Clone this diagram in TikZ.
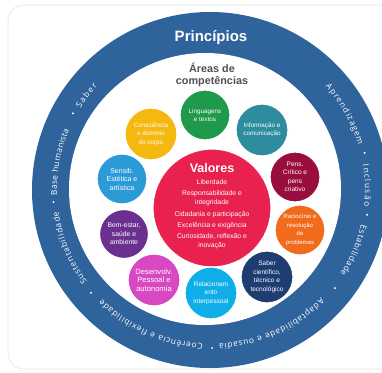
\documentclass[tikz,border=0pt]{standalone}
\usepackage{fontspec}
\setmainfont{Liberation Sans}
\newfontfamily\ringfont{Open Sans}
\usetikzlibrary{decorations.text}
\definecolor{ringblue}{HTML}{2F639B}
\definecolor{areagray}{HTML}{505050}
\definecolor{cval}{HTML}{E8214F}
\definecolor{cling}{HTML}{1F9A4A}
\definecolor{cconsc}{HTML}{F5B80F}
\definecolor{cinfo}{HTML}{2D8C9E}
\definecolor{csens}{HTML}{2B9BD8}
\definecolor{cpens}{HTML}{9A0E3F}
\definecolor{cracio}{HTML}{F26B1D}
\definecolor{cbem}{HTML}{6B2F90}
\definecolor{cdesenv}{HTML}{D848C2}
\definecolor{crelac}{HTML}{0FAEE8}
\definecolor{csaber}{HTML}{1E3E72}
\tikzset{
  comp/.style={circle, draw=white, line width=1.2pt, minimum size=52pt, inner sep=0pt,
    align=center, text=white},
  fs/.style={font=\fontsize{#1}{8.5}\selectfont},
  ringtext/.style={decorate, decoration={text along path,
    text={|\ringfont\fontsize{8.3}{10}\selectfont\color{white}|#1},
    text align=fit to path}},
  ringdot/.style={white}
}
\begin{document}
\begin{tikzpicture}[x=1pt,y=1pt]
\useasboundingbox (0,0) rectangle (382,-372);
\fill[white] (0,0) rectangle (382,-372);
\draw[black!10, line width=0.6pt, rounded corners=16pt] (8,-5) rectangle (402,-369);
% ring
\coordinate (rc) at (211,-190);
\fill[ringblue] (210,-190) circle[radius=178];
\fill[white] (205,-189) circle[radius=136];
% titles
\node[font=\bfseries\fontsize{15}{18}\selectfont, text=white] (princ) at (211,-38) {Princípios};
\node[font=\bfseries\fontsize{10.8}{12}\selectfont, text=areagray, align=center] (areas) at (212,-75) {Áreas de\\competências};
% ring text
\path[ringtext={Saber}] (rc) ++(148:154) arc[start angle=148, end angle=137.5, radius=154];
\path[ringtext={Base humanista}] (rc) ++(182:154) arc[start angle=182, end angle=157, radius=154];
\path[ringtext={Sustentabilidade}] (rc) ++(216.5:154) arc[start angle=216.5, end angle=188, radius=154];
\path[ringtext={Coerência e flexibilidade}] (rc) ++(267:154) arc[start angle=267, end angle=225, radius=154];
\path[ringtext={Adaptabilidade e ousadia}] (rc) ++(315.5:154) arc[start angle=315.5, end angle=273, radius=154];
\path[ringtext={Estabilidade}] (rc) ++(347:154) arc[start angle=347, end angle=327, radius=154];
\path[ringtext={Inclusão}] (rc) ++(9.5:154) arc[start angle=9.5, end angle=-6, radius=154];
\path[ringtext={Aprendizagem}] (rc) ++(42:154) arc[start angle=42, end angle=17, radius=154];
\foreach \a in {151,184.4,220.6,270.4,321.6,351,13.6}
  \fill[ringdot] (rc) ++(\a:158) circle[radius=1.1];
% valores
\node[circle, fill=cval, draw=white, line width=1.2pt, minimum size=118pt, inner sep=0pt] (val) at (212,-208) {};
\node[font=\bfseries\fontsize{12.5}{14}\selectfont, text=white] (valt) at (212,-168) {Valores};
\node[font=\fontsize{6.8}{9}\selectfont, text=white, align=center] (vall) at (212,-214.5)
  {Liberdade\\[2.3pt]Responsabilidade e\\integridade\\[2.3pt]Cidadania e participação\\[2.3pt]Excelência e exigência\\[2.3pt]Curiosidade, reflexão e\\inovação};
% competence circles
\node[comp, fill=cling, minimum size=50pt, fs=6.3] (ling) at (205,-115) {Linguagens\\e textos};
\node[comp, fill=cconsc, fs=6.3] (consc) at (151,-134) {Consciência\\e domínio\\do corpo};
\node[comp, fill=cinfo, fs=6.3] (info) at (262,-130) {Informação e\\comunicação};
\node[comp, fill=csens, minimum size=50pt, fs=7] (sens) at (122,-179) {Sensib.\\Estética e\\artística};
\node[comp, fill=cpens, minimum size=50pt, fs=6.5] (pens) at (295,-177) {Pens.\\Crítico e\\pens\\criativo};
\node[comp, fill=cracio, minimum size=50pt, fs=6] (racio) at (300,-230) {Raciocínio e\\resolução\\de\\problemas};
\node[comp, fill=cbem, minimum size=49pt, fs=6.8] (bem) at (124,-234) {Bem-estar,\\saúde e\\ambiente};
\node[comp, fill=cdesenv, fs=7.6] (desenv) at (154,-280) {Desenvolv.\\Pessoal e\\autonomia};
\node[comp, fill=crelac, fs=6.5] (relac) at (211,-293) {Relacionam\\ento\\interpessoal};
\node[comp, fill=csaber, fs=6.5] (saber) at (267,-277) {Saber\\científico,\\técnico e\\tecnológico};
\end{tikzpicture}
\end{document}
